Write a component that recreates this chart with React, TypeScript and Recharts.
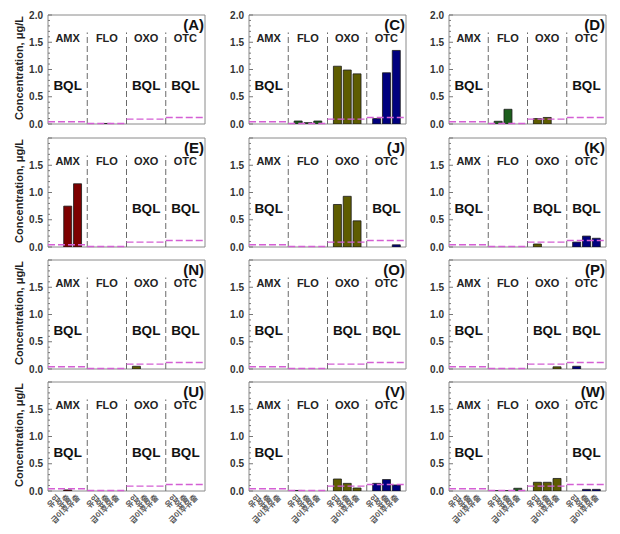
import { BarChart, Bar, Cell, XAxis, YAxis, ReferenceLine, ReferenceArea, ReferenceDot } from 'recharts';

// ── Data ──────────────────────────────────────────────────────────────────────

const GROUPS = ['AMX', 'FLO', 'OXO', 'OTC'];
const SAMPLES = ['유입', '유출', '급이후유출'];
const GROUP_COLORS = ['#7d0000', '#1c5e1c', '#5e5c00', '#00007e'];
// limit of quantification per compound (µg/L)
const LOQ = [0.04, 0.01, 0.09, 0.12];

const PANEL_LABELS = ['(A)', '(C)', '(D)', '(E)', '(J)', '(K)', '(N)', '(O)', '(P)', '(U)', '(V)', '(W)'];

// 12 values per panel: AMX x3, FLO x3, OXO x3, OTC x3
const VAL_A = [0, 0, 0, 0, 0.01, 0, 0, 0, 0, 0, 0, 0];
const VAL_C = [0, 0, 0, 0.055, 0.025, 0.055, 1.06, 0.99, 0.92, 0.1, 0.94, 1.35];
const VAL_D = [0, 0, 0, 0.05, 0.27, 0, 0.1, 0.12, 0, 0, 0, 0];
const VAL_E = [0, 0.75, 1.16, 0, 0, 0, 0, 0, 0, 0, 0, 0];
const VAL_J = [0, 0, 0, 0, 0, 0, 0.78, 0.93, 0.48, 0, 0, 0.04];
const VAL_K = [0, 0, 0, 0, 0, 0, 0.055, 0, 0, 0.09, 0.2, 0.16];
const VAL_N = [0, 0, 0, 0, 0, 0, 0.05, 0, 0, 0, 0, 0];
const VAL_O = [0, 0, 0, 0, 0, 0, 0, 0, 0, 0, 0, 0];
const VAL_P = [0, 0, 0, 0, 0, 0, 0, 0, 0.04, 0.05, 0, 0];
const VAL_U = [0, 0.02, 0, 0, 0, 0, 0, 0, 0, 0, 0, 0];
const VAL_V = [0, 0, 0, 0.01, 0, 0, 0.22, 0.14, 0.055, 0.14, 0.21, 0.11];
const VAL_W = [0, 0, 0, 0.005, 0.005, 0.05, 0.16, 0.16, 0.23, 0, 0.03, 0.03];

// groups marked "BQL" (below quantification limit)
const BQL_A = [true, false, true, true];
const BQL_C = [true, false, false, false];
const BQL_D = [true, false, false, true];
const BQL_E = [false, false, true, true];
const BQL_J = [true, false, false, true];
const BQL_K = [true, false, true, true];
const BQL_N = [true, false, true, true];
const BQL_O = [true, false, true, true];
const BQL_P = [true, false, true, true];
const BQL_U = [true, false, true, true];
const BQL_V = [true, false, false, false];
const BQL_W = [true, false, false, true];

const VALUES = [VAL_A, VAL_C, VAL_D, VAL_E, VAL_J, VAL_K, VAL_N, VAL_O, VAL_P, VAL_U, VAL_V, VAL_W];
const BQL = [BQL_A, BQL_C, BQL_D, BQL_E, BQL_J, BQL_K, BQL_N, BQL_O, BQL_P, BQL_U, BQL_V, BQL_W];

// ── Layout ────────────────────────────────────────────────────────────────────

const FONT = '"Liberation Sans", Arial, "Noto Sans CJK KR", sans-serif';
const KFONT = '"Noto Sans CJK KR", "Liberation Sans", sans-serif';
const PLOT_W = 157;
const PLOT_H = 109;
const AXIS_W = 40;
const COL_LEFT = [48, 249, 449];
const ROW_BOTTOM = [124, 247, 369, 491];
const Y_TICKS = Array.from({ length: 21 }, (_, i) => i / 10);

const YTick = ({ y, payload, topRow }: any) => {
  const v = payload.value;
  const major = Math.round(v * 10) % 5 === 0;
  const showText = major && (topRow || v < 1.99);
  return (
    <g>
      <line x1={AXIS_W} x2={AXIS_W + (major ? 4 : 2)} y1={y} y2={y} stroke="#777" />
      {showText && (
        <text x={AXIS_W - 5} y={y} dy={3.5} textAnchor="end" fontSize={10} fontWeight="bold" fill="#333" fontFamily={FONT}>
          {v.toFixed(1)}
        </text>
      )}
    </g>
  );
};

const XTick = ({ x, y, payload }: any) => {
  const label = SAMPLES[(payload.value % 4) - 1];
  const ty = y + 5;
  return (
    <text x={x + 3} y={ty} transform={`rotate(-45 ${x + 3} ${ty})`} textAnchor="end"
      fontSize={8} fontWeight="bold" fill="#555" fontFamily={KFONT}>
      {label}
    </text>
  );
};

function Panel({ idx }: { idx: number }) {
  const row = Math.floor(idx / 3);
  const col = idx % 3;
  const bottomRow = row === 3;
  const xAxisH = bottomRow ? 40 : 0;
  const bottomPad = bottomRow ? 0 : 8;
  const values = VALUES[idx];
  const data = values.map((v, i) => ({
    x: Math.floor(i / 3) * 4 + (i % 3) + 1,
    v,
    g: Math.floor(i / 3),
  }));

  return (
    <div style={{ position: 'absolute', left: COL_LEFT[col] - AXIS_W, top: ROW_BOTTOM[row] - PLOT_H - 5 }}>
      <BarChart width={AXIS_W + PLOT_W + 5} height={5 + PLOT_H + xAxisH + bottomPad} data={data}
        margin={{ top: 5, right: 5, left: 0, bottom: bottomPad }} barSize={8}>
        <XAxis
          dataKey="x"
          type="number"
          domain={[0, 16]}
          hide={!bottomRow}
          height={xAxisH}
          ticks={data.map((d) => d.x)}
          interval={0}
          axisLine={false}
          tickLine={false}
          tickSize={0}
          tick={<XTick />}
          allowDataOverflow
        />
        <YAxis
          type="number"
          domain={[0, 2]}
          ticks={Y_TICKS}
          width={AXIS_W}
          axisLine={false}
          tickLine={false}
          interval={0}
          tick={<YTick topRow={row === 0} />}
          allowDataOverflow
        />
        <ReferenceArea x1={0} x2={16} y1={0} y2={2} fill="none" stroke="#8a8a8a" strokeWidth={1} />
        {[1, 2, 3].map((g) => (
          <ReferenceLine key={'sep' + g} segment={[{ x: g * 4, y: 0 }, { x: g * 4, y: 1.68 }]}
            stroke="#6a6a6a" strokeDasharray="6 3" />
        ))}
        <Bar dataKey="v" isAnimationActive={false} stroke="#1a1a1a" strokeWidth={0.8}>
          {data.map((d, i) => (
            <Cell key={i} fill={GROUP_COLORS[d.g]} />
          ))}
        </Bar>
        {LOQ.map((l, g) => (
          <ReferenceLine key={'loq' + g} segment={[{ x: g * 4, y: l }, { x: g * 4 + 4, y: l }]}
            stroke="#d45fd4" strokeDasharray="7 3" strokeWidth={1.4} />
        ))}
        {GROUPS.map((name, g) => (
          <ReferenceDot key={'gl' + g} x={g * 4 + 2} y={1.58} r={0} fill="none" stroke="none"
            label={{ value: name, position: 'center', fontSize: 11, fontWeight: 'bold', fill: '#222', fontFamily: FONT }} />
        ))}
        {BQL[idx].map((b, g) => b && (
          <ReferenceDot key={'bql' + g} x={g * 4 + 2} y={0.72} r={0} fill="none" stroke="none"
            label={{ value: 'BQL', position: 'center', fontSize: 13.5, fontWeight: 'bold', fill: '#111', fontFamily: FONT }} />
        ))}
        <ReferenceDot x={16} y={1.82} r={0} fill="none" stroke="none"
          label={{ value: PANEL_LABELS[idx], position: 'left', offset: 1, fontSize: 15, fontWeight: 'bold', fill: '#111', fontFamily: FONT }} />
      </BarChart>
    </div>
  );
}

export default function App() {
  return (
    <div style={{ position: 'absolute', left: 0, top: 0, width: 620, height: 534, background: '#fff', overflow: 'hidden' }}>
      {ROW_BOTTOM.map((b, r) => (
        <div key={'yt' + r} style={{
          position: 'absolute', left: 19, top: b - PLOT_H / 2 - 2,
          transform: 'translate(-50%, -50%) rotate(-90deg)', whiteSpace: 'nowrap',
          fontFamily: FONT, fontWeight: 'bold', fontSize: 11, color: '#222',
        }}>
          Concentration, μg/L
        </div>
      ))}
      {PANEL_LABELS.map((_, i) => (
        <Panel key={i} idx={i} />
      ))}
    </div>
  );
}
